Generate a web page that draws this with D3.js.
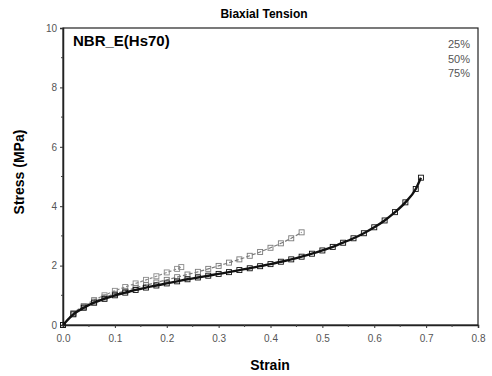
<!DOCTYPE html>
<html>
<head>
<meta charset="utf-8">
<script src="https://cdn.jsdelivr.net/npm/d3@7.9.0/dist/d3.min.js"></script>
<style>
  body { margin: 0; background: #fff; }
  svg { display: block; font-family: "Liberation Sans", Arial, sans-serif; }
</style>
</head>
<body>
<svg id="chart" width="492" height="376"></svg>
<script>
// values (strain, stress MPa)
const strain25 = [0, 0.02, 0.04, 0.06, 0.08, 0.10, 0.12, 0.14, 0.16, 0.18, 0.20, 0.22, 0.228];
const stress25 = [0, 0.40, 0.64, 0.84, 1.00, 1.15, 1.28, 1.40, 1.52, 1.64, 1.77, 1.89, 1.95];

const strain50 = [0, 0.02, 0.04, 0.06, 0.08, 0.10, 0.12, 0.14, 0.16, 0.18, 0.20, 0.22, 0.24,
                  0.26, 0.28, 0.30, 0.32, 0.34, 0.36, 0.38, 0.40, 0.42, 0.44, 0.46];
const stress50 = [0, 0.38, 0.61, 0.79, 0.93, 1.05, 1.15, 1.25, 1.34, 1.43, 1.52, 1.61, 1.70,
                  1.79, 1.89, 1.99, 2.10, 2.21, 2.33, 2.46, 2.60, 2.75, 2.92, 3.12];

const strain75 = [0, 0.02, 0.04, 0.06, 0.08, 0.10, 0.12, 0.14, 0.16, 0.18, 0.20, 0.22, 0.24,
                  0.26, 0.28, 0.30, 0.32, 0.34, 0.36, 0.38, 0.40, 0.42, 0.44, 0.46, 0.48,
                  0.50, 0.52, 0.54, 0.56, 0.58, 0.60, 0.62, 0.64, 0.66, 0.68, 0.69];
const stress75 = [0, 0.36, 0.58, 0.75, 0.88, 1.00, 1.09, 1.18, 1.26, 1.33, 1.40, 1.47, 1.54,
                  1.60, 1.66, 1.72, 1.78, 1.85, 1.91, 1.98, 2.05, 2.13, 2.21, 2.30, 2.40,
                  2.51, 2.63, 2.77, 2.92, 3.09, 3.29, 3.52, 3.80, 4.13, 4.58, 4.96];

const seriesNames = ["25%", "50%", "75%"];
const xTicks = [0, 0.1, 0.2, 0.3, 0.4, 0.5, 0.6, 0.7, 0.8];
const yTicks = [0, 2, 4, 6, 8, 10];

const series = [
  { name: "25%", xs: strain25, ys: stress25, color: "#8a8a8a", dash: "3,2", w: 1.2 },
  { name: "50%", xs: strain50, ys: stress50, color: "#7a7a7a", dash: "4,2", w: 1.2 },
  { name: "75%", xs: strain75, ys: stress75, color: "#111", dash: null, w: 2.4 }
];

const svg = d3.select("#chart");
const plotL = 63, plotR = 478, plotT = 28, plotB = 325;

const x = d3.scaleLinear().domain([0, 0.8]).range([plotL, plotR]);
const y = d3.scaleLinear().domain([0, 10]).range([plotB, plotT]);

// frame
svg.append("rect")
  .attr("x", plotL).attr("y", plotT)
  .attr("width", plotR - plotL).attr("height", plotB - plotT)
  .attr("fill", "none").attr("stroke", "#222").attr("stroke-width", 1.2);

// axes
const xAxis = d3.axisBottom(x).tickValues(xTicks).tickSize(3).tickFormat(d3.format(".1f"));
const yAxis = d3.axisLeft(y).tickValues(yTicks).tickSize(3).tickFormat(d3.format("d"));

const gx = svg.append("g").attr("transform", `translate(0,${plotB})`).call(xAxis);
const gy = svg.append("g").attr("transform", `translate(${plotL},0)`).call(yAxis);
[gx, gy].forEach(g => {
  g.select(".domain").attr("stroke", "#222").attr("stroke-width", 1.5);
  g.selectAll(".tick line").attr("stroke", "#333");
  g.selectAll(".tick text").attr("fill", "#555").attr("font-size", 10);
});
gx.selectAll(".tick text").attr("dy", "1.1em");

// minor ticks
svg.append("g").selectAll("line")
  .data(d3.range(0.05, 0.8, 0.1))
  .join("line")
  .attr("x1", d => x(d)).attr("x2", d => x(d))
  .attr("y1", plotB).attr("y2", plotB + 2)
  .attr("stroke", "#444");
svg.append("g").selectAll("line")
  .data([1, 3, 5, 7, 9])
  .join("line")
  .attr("x1", plotL - 2).attr("x2", plotL)
  .attr("y1", d => y(d)).attr("y2", d => y(d))
  .attr("stroke", "#444");

// curves with open square markers
const line = d3.line().x(d => x(d[0])).y(d => y(d[1])).curve(d3.curveMonotoneX);
series.forEach(s => {
  const pts = s.xs.map((v, i) => [v, s.ys[i]]);
  const g = svg.append("g");
  g.append("path")
    .attr("d", line(pts))
    .attr("fill", "none")
    .attr("stroke", s.color)
    .attr("stroke-width", s.w)
    .attr("stroke-dasharray", s.dash);
  g.selectAll("rect")
    .data(pts)
    .join("rect")
    .attr("x", d => x(d[0]) - 2.5)
    .attr("y", d => y(d[1]) - 2.5)
    .attr("width", 5).attr("height", 5)
    .attr("fill", "none")
    .attr("stroke", s.color)
    .attr("stroke-width", 0.9);
});

// legend (symbols faded out in the original)
svg.append("g").selectAll("text")
  .data(seriesNames)
  .join("text")
  .attr("x", 470)
  .attr("y", (d, i) => 48 + i * 14.5)
  .attr("text-anchor", "end")
  .attr("font-size", 11)
  .attr("fill", "#555")
  .text(d => d);

// titles
svg.append("text")
  .attr("x", 264).attr("y", 18)
  .attr("text-anchor", "middle")
  .attr("font-weight", "bold").attr("font-size", 12)
  .text("Biaxial Tension");

svg.append("text")
  .attr("x", 73).attr("y", 46)
  .attr("font-weight", "bold").attr("font-size", 15)
  .text("NBR_E(Hs70)");

svg.append("text")
  .attr("x", 270).attr("y", 370)
  .attr("text-anchor", "middle")
  .attr("font-weight", "bold").attr("font-size", 14)
  .text("Strain");

svg.append("text")
  .attr("transform", "translate(24,172) rotate(-90)")
  .attr("text-anchor", "middle")
  .attr("font-weight", "bold").attr("font-size", 14)
  .text("Stress (MPa)");
</script>
</body>
</html>
